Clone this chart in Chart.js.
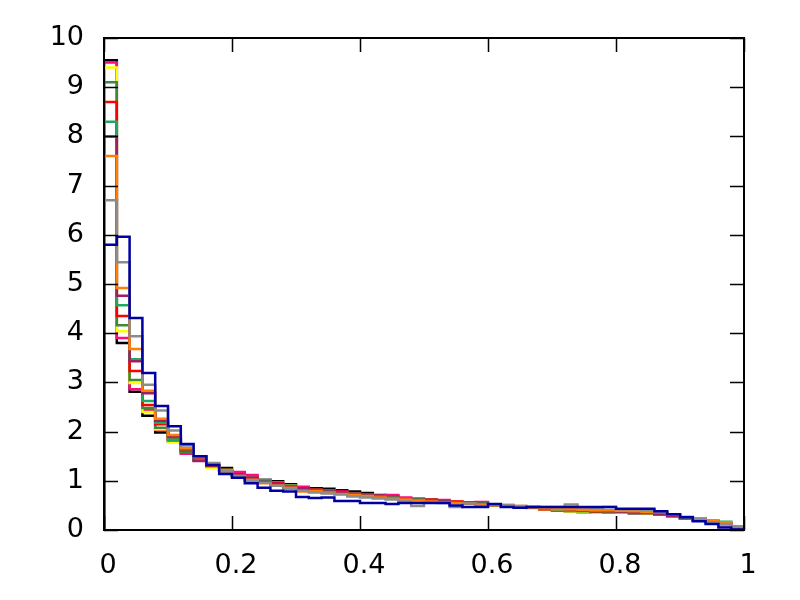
<!DOCTYPE html>
<html>
<head>
<meta charset="utf-8">
<script src="https://cdn.jsdelivr.net/npm/chart.js@4/dist/chart.umd.min.js"></script>
<style>
  html, body { margin: 0; padding: 0; background: #fff; }
  #wrap { width: 800px; height: 600px; }
</style>
</head>
<body>
<div id="wrap"><canvas id="hist"></canvas></div>
<script>
// left bin edges, width 0.02
const binEdges = [
  0.00, 0.02, 0.04, 0.06, 0.08, 0.10, 0.12, 0.14, 0.16, 0.18,
  0.20, 0.22, 0.24, 0.26, 0.28, 0.30, 0.32, 0.34, 0.36, 0.38,
  0.40, 0.42, 0.44, 0.46, 0.48, 0.50, 0.52, 0.54, 0.56, 0.58,
  0.60, 0.62, 0.64, 0.66, 0.68, 0.70, 0.72, 0.74, 0.76, 0.78,
  0.80, 0.82, 0.84, 0.86, 0.88, 0.90, 0.92, 0.94, 0.96, 0.98,
];
const xEnd = 1.0;

const xTicks = [0, 0.2, 0.4, 0.6, 0.8, 1];
const xTickLabels = ['0', '0.2', '0.4', '0.6', '0.8', '1'];
const yTicks = [0, 1, 2, 3, 4, 5, 6, 7, 8, 9, 10];

const blackVals = [
  9.55, 3.80, 2.81, 2.32, 1.98, 1.80, 1.58, 1.44, 1.30, 1.26,
  1.13, 1.06, 1.00, 0.99, 0.93, 0.86, 0.85, 0.84, 0.81, 0.78,
  0.75, 0.71, 0.68, 0.63, 0.62, 0.60, 0.58, 0.56, 0.55, 0.53,
  0.52, 0.50, 0.48, 0.45, 0.42, 0.40, 0.38, 0.36, 0.37, 0.36,
  0.35, 0.34, 0.34, 0.31, 0.30, 0.24, 0.20, 0.16, 0.10, 0.05,
];
const pinkVals = [
  9.50, 3.90, 2.86, 2.44, 2.03, 1.82, 1.55, 1.45, 1.30, 1.20,
  1.18, 1.12, 1.02, 0.95, 0.90, 0.88, 0.82, 0.80, 0.78, 0.74,
  0.72, 0.70, 0.71, 0.66, 0.64, 0.62, 0.61, 0.57, 0.56, 0.57,
  0.52, 0.50, 0.48, 0.46, 0.43, 0.41, 0.40, 0.38, 0.36, 0.36,
  0.38, 0.36, 0.33, 0.31, 0.27, 0.24, 0.20, 0.15, 0.10, 0.05,
];
const yellowVals = [
  9.40, 4.04, 2.99, 2.40, 2.05, 1.78, 1.60, 1.45, 1.26, 1.22,
  1.10, 1.02, 0.98, 0.96, 0.90, 0.83, 0.80, 0.78, 0.76, 0.72,
  0.70, 0.68, 0.66, 0.63, 0.61, 0.60, 0.58, 0.56, 0.54, 0.52,
  0.50, 0.49, 0.46, 0.43, 0.42, 0.40, 0.38, 0.36, 0.36, 0.36,
  0.35, 0.35, 0.34, 0.33, 0.28, 0.24, 0.19, 0.15, 0.11, 0.07,
];
const darkGreenVals = [
  9.10, 4.16, 3.05, 2.48, 2.08, 1.82, 1.59, 1.42, 1.30, 1.20,
  1.12, 1.04, 1.00, 0.92, 0.88, 0.84, 0.82, 0.80, 0.76, 0.73,
  0.71, 0.69, 0.66, 0.63, 0.62, 0.60, 0.58, 0.57, 0.54, 0.53,
  0.51, 0.49, 0.47, 0.45, 0.43, 0.40, 0.40, 0.38, 0.37, 0.36,
  0.36, 0.35, 0.34, 0.32, 0.28, 0.24, 0.20, 0.18, 0.14, 0.06,
];
const redVals = [
  8.70, 4.35, 3.23, 2.54, 2.15, 1.86, 1.62, 1.45, 1.30, 1.20,
  1.10, 1.04, 0.98, 0.95, 0.88, 0.84, 0.82, 0.80, 0.77, 0.73,
  0.71, 0.68, 0.67, 0.63, 0.62, 0.62, 0.59, 0.58, 0.56, 0.53,
  0.51, 0.49, 0.47, 0.45, 0.42, 0.40, 0.40, 0.41, 0.38, 0.37,
  0.37, 0.36, 0.35, 0.33, 0.29, 0.24, 0.24, 0.18, 0.12, 0.06,
];
const greenVals = [
  8.30, 4.57, 3.47, 2.62, 2.18, 1.84, 1.64, 1.42, 1.32, 1.20,
  1.10, 1.04, 1.02, 0.93, 0.90, 0.84, 0.81, 0.80, 0.76, 0.73,
  0.70, 0.68, 0.66, 0.64, 0.62, 0.61, 0.58, 0.56, 0.55, 0.54,
  0.51, 0.50, 0.47, 0.45, 0.44, 0.41, 0.42, 0.40, 0.39, 0.38,
  0.38, 0.37, 0.35, 0.33, 0.29, 0.25, 0.21, 0.19, 0.17, 0.07,
];
const purpleVals = [
  8.00, 4.76, 3.43, 2.78, 2.22, 1.90, 1.65, 1.40, 1.32, 1.20,
  1.12, 1.06, 0.98, 0.94, 0.88, 0.85, 0.80, 0.78, 0.76, 0.72,
  0.70, 0.67, 0.65, 0.63, 0.61, 0.60, 0.58, 0.56, 0.54, 0.53,
  0.51, 0.50, 0.48, 0.46, 0.44, 0.44, 0.42, 0.40, 0.40, 0.39,
  0.38, 0.37, 0.36, 0.33, 0.29, 0.26, 0.22, 0.18, 0.14, 0.06,
];
const orangeVals = [
  7.60, 4.92, 3.68, 2.83, 2.26, 1.93, 1.66, 1.50, 1.34, 1.22,
  1.10, 1.02, 0.95, 0.90, 0.86, 0.78, 0.79, 0.76, 0.73, 0.71,
  0.69, 0.66, 0.64, 0.62, 0.60, 0.58, 0.56, 0.55, 0.54, 0.52,
  0.51, 0.51, 0.49, 0.46, 0.44, 0.42, 0.42, 0.41, 0.40, 0.40,
  0.39, 0.38, 0.37, 0.36, 0.32, 0.27, 0.24, 0.20, 0.16, 0.07,
];
const grayVals = [
  6.70, 5.44, 3.94, 2.95, 2.43, 2.02, 1.72, 1.48, 1.36, 1.20,
  1.10, 1.00, 0.96, 0.90, 0.84, 0.80, 0.76, 0.74, 0.72, 0.68,
  0.66, 0.64, 0.62, 0.58, 0.49, 0.56, 0.55, 0.47, 0.54, 0.49,
  0.52, 0.51, 0.49, 0.48, 0.47, 0.47, 0.52, 0.46, 0.45, 0.47,
  0.42, 0.42, 0.40, 0.37, 0.31, 0.26, 0.22, 0.16, 0.12, 0.06,
];
const blueVals = [
  5.80, 5.96, 4.31, 3.19, 2.52, 2.11, 1.75, 1.50, 1.32, 1.14,
  1.06, 0.95, 0.86, 0.80, 0.78, 0.67, 0.65, 0.66, 0.59, 0.59,
  0.55, 0.55, 0.53, 0.55, 0.55, 0.55, 0.55, 0.50, 0.47, 0.47,
  0.53, 0.47, 0.45, 0.47, 0.47, 0.47, 0.47, 0.47, 0.47, 0.47,
  0.43, 0.43, 0.43, 0.38, 0.32, 0.26, 0.18, 0.12, 0.05, 0.01,
];

// first entry is drawn on top
const series = [
  { vals: blueVals, color: '#0000a0' },
  { vals: grayVals, color: '#8c8c8c' },
  { vals: orangeVals, color: '#ff7f00' },
  { vals: purpleVals, color: '#a01f62' },
  { vals: greenVals, color: '#20a862' },
  { vals: redVals, color: '#ff0000' },
  { vals: darkGreenVals, color: '#3c8a3c' },
  { vals: yellowVals, color: '#ffff00' },
  { vals: pinkVals, color: '#ff0a80' },
  { vals: blackVals, color: '#000000' },
];

// histogram outline: up from 0 at the left, step across each bin, down to 0 at the right
const toSteps = (vals) => {
  const pts = [{ x: binEdges[0], y: 0 }];
  vals.forEach((v, i) => pts.push({ x: binEdges[i], y: v }));
  pts.push({ x: xEnd, y: 0 });
  return pts;
};

const frameTicks = {
  id: 'frameTicks',
  afterDraw(chart) {
    const { ctx, chartArea: a, scales } = chart;
    const len = 14;
    ctx.save();
    ctx.strokeStyle = '#000';
    ctx.lineWidth = 1.5;
    ctx.beginPath();
    xTicks.forEach((t) => {
      const px = Math.round(scales.x.getPixelForValue(t)) + 0.5;
      ctx.moveTo(px, a.bottom); ctx.lineTo(px, a.bottom - len);
      ctx.moveTo(px, a.top); ctx.lineTo(px, a.top + len);
    });
    yTicks.forEach((t) => {
      const py = Math.round(scales.y.getPixelForValue(t)) + 0.5;
      ctx.moveTo(a.left, py); ctx.lineTo(a.left + len, py);
      ctx.moveTo(a.right, py); ctx.lineTo(a.right - len, py);
    });
    ctx.stroke();
    ctx.lineWidth = 2;
    ctx.strokeRect(a.left, a.top, a.right - a.left, a.bottom - a.top);
    ctx.restore();
  },
};

const labelFont = { family: 'DejaVu Sans', size: 27 };

new Chart(document.getElementById('hist'), {
  type: 'line',
  data: {
    datasets: series.map((s) => ({
      data: toSteps(s.vals),
      borderColor: s.color,
      borderWidth: 2.5,
      pointRadius: 0,
      stepped: 'before',
      fill: false,
    })),
  },
  options: {
    responsive: true,
    maintainAspectRatio: false,
    animation: false,
    events: [],
    layout: { padding: { top: 38, right: 56, left: 0, bottom: 0 } },
    plugins: { legend: { display: false }, tooltip: { enabled: false } },
    scales: {
      x: {
        type: 'linear',
        min: 0,
        max: 1,
        afterBuildTicks: (scale) => { scale.ticks = xTicks.map((v) => ({ value: v })); },
        afterFit: (scale) => { scale.height = 70; },
        grid: { display: false },
        border: { display: false },
        ticks: {
          color: '#000',
          font: labelFont,
          padding: 12,
          labelOffset: 4,
          maxRotation: 0,
          callback: (v, i) => xTickLabels[i],
        },
      },
      y: {
        type: 'linear',
        min: 0,
        max: 10,
        afterBuildTicks: (scale) => { scale.ticks = yTicks.map((v) => ({ value: v })); },
        afterFit: (scale) => { scale.width = 104; },
        grid: { display: false },
        border: { display: false },
        ticks: { color: '#000', font: labelFont, padding: 12 },
      },
    },
  },
  plugins: [frameTicks],
});
</script>
</body>
</html>
